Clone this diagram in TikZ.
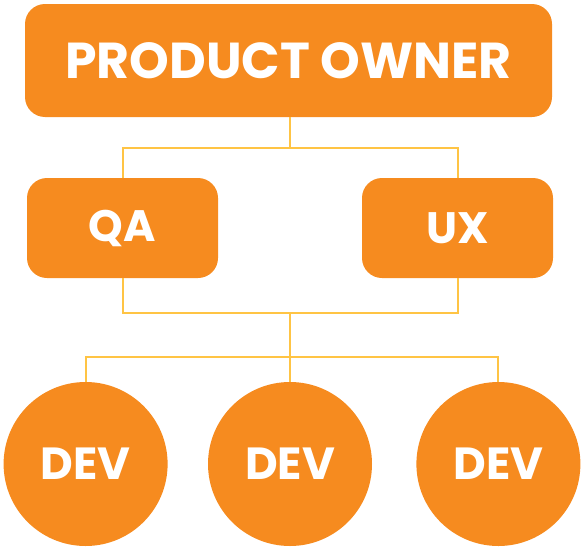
\documentclass[tikz,border=0pt]{standalone}
\usepackage{fontspec}
\setmainfont{Poppins}
\usepackage{tikz}
\usetikzlibrary{positioning}

\definecolor{teamorange}{HTML}{F68B1F}
\definecolor{linkyellow}{HTML}{FFC444}

\begin{document}
\begin{tikzpicture}[x=1pt, y=-1pt,
    role/.style={rectangle, fill=teamorange, rounded corners=20pt, text=white, font=\fontsize{44}{48}\selectfont\bfseries, inner sep=0pt},
    dev/.style={circle, fill=teamorange, minimum size=164pt, text=white, font=\fontsize{45}{48}\selectfont\bfseries, inner sep=0pt},
    link/.style={draw=linkyellow, line width=2pt}]
    \useasboundingbox (0,0) rectangle (583,546);
    \node [role, minimum width=527pt, minimum height=113pt, font=\fontsize{50.5}{54}\selectfont\bfseries] (po) at (288.5,60.5) {PRODUCT OWNER};
    \node [role, minimum width=191pt, minimum height=100pt] (qa) at (122.5,228) {QA};
    \node [role, minimum width=191pt, minimum height=100pt] (ux) at (457.5,228) {UX};
    \node [dev] (dev2) at (290,464) {DEV};
    \node [dev, left=40pt of dev2] (dev1) {DEV};
    \node [dev, right=44pt of dev2] (dev3) {DEV};

    % junctions of the connectors
    \coordinate (top) at (290,148);
    \coordinate (mid) at (290,313);
    \coordinate (low) at (290,357);

    \draw [link] (po.south -| top) -- (top);
    \draw [link] (qa.north) |- (top) -| (ux.north);
    \draw [link] (qa.south) |- (mid) -| (ux.south);
    \draw [link] (mid) -- (low);
    \draw [link] (dev1.north) |- (low) -| (dev3.north);
    \draw [link] (low) -- (dev2.north);
\end{tikzpicture}
\end{document}
